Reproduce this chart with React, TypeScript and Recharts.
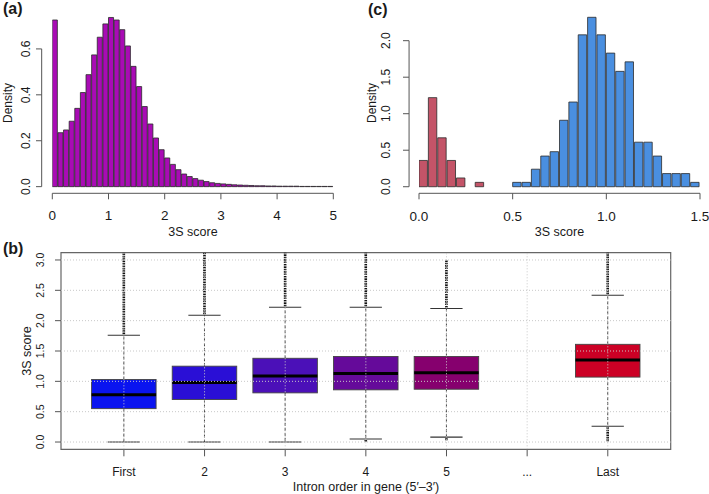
import React from "react";
import {
  BarChart,
  Bar,
  ComposedChart,
  XAxis,
  YAxis,
  ReferenceLine,
  ReferenceArea,
} from "recharts";

const FONT = '"Liberation Sans", Arial, Helvetica, sans-serif';
const TEXT = "#1a1a1a";
const AXIS = "#555";

// (a) 3S score, all introns: density per 0.1 bin from 0 to 5
const aBinWidth = 0.1;
const aDensity = [
  0.726, 0.235, 0.247, 0.285, 0.341, 0.41, 0.488, 0.574, 0.651, 0.709,
  0.737, 0.726, 0.684, 0.613, 0.524, 0.436, 0.349, 0.273, 0.212, 0.161,
  0.125, 0.097, 0.074, 0.055, 0.044, 0.035, 0.028, 0.022, 0.017, 0.014,
  0.012, 0.01, 0.008, 0.007, 0.006, 0.005, 0.004, 0.004, 0.003, 0.003,
  0.002, 0.002, 0.002, 0.002, 0.001, 0.001, 0.001, 0.001, 0.001, 0.001,
];
const aXTicks = [0, 1, 2, 3, 4, 5];
const aYTicks = [0, 0.2, 0.4, 0.6];

// (c) two groups, density per 0.05 bin from 0 to 1.5
const cBinWidth = 0.05;
const cRed = [
  0.36, 1.22, 0.67, 0.36, 0.12, null, 0.06, null, null, null,
  null, null, null, null, null, null, null, null, null, null,
  null, null, null, null, null, null, null, null, null, null,
];
const cBlue = [
  null, null, null, null, null, null, null, null, null, null,
  0.06, 0.06, 0.24, 0.42, 0.48, 0.91, 1.16, 2.08, 2.32, 2.08,
  1.83, 1.58, 1.71, 0.61, 0.61, 0.42, 0.18, 0.18, 0.18, 0.06,
];
const cXTicks = [0, 0.5, 1, 1.5];
const cYTicks = [0, 0.5, 1, 1.5, 2];

// (b) 3S score by intron order
const bCategories = ["First", "2", "3", "4", "5", "...", "Last"];
const bQ1 = [0.55, 0.7, 0.81, 0.86, 0.87, null, 1.07];
const bMedian = [0.78, 0.98, 1.09, 1.13, 1.14, null, 1.35];
const bQ3 = [1.03, 1.25, 1.38, 1.41, 1.41, null, 1.61];
const bWhiskLo = [0, 0, 0, 0.05, 0.08, null, 0.26];
const bWhiskHi = [1.76, 2.09, 2.22, 2.22, 2.2, null, 2.42];
const bOutLo = [null, null, null, 0, 0.02, null, 0];
const bOutHi = [3.15, 3.15, 3.15, 3.15, 2.99, null, 3.16];
const bYTicks = [0, 0.5, 1, 1.5, 2, 2.5, 3];
const BOX_COLORS = ["#0A14F0", "#2A0FD6", "#4B10B8", "#650A9A", "#86006E", "", "#CC0025"];

const aData = aDensity.map((d, i) => ({ x: (i + 0.5) * aBinWidth, d }));
const cData = cRed.map((r, i) => ({ x: (i + 0.5) * cBinWidth, red: r, blue: cBlue[i] }));
const bData = bCategories.map((name, i) => ({
  pos: i + 1,
  name,
  q1: bQ1[i],
  median: bMedian[i],
  q3: bQ3[i],
  wLo: bWhiskLo[i],
  wHi: bWhiskHi[i],
  oLo: bOutLo[i],
  oHi: bOutHi[i],
}));

const rangeLo = (d: any) => (d.oLo != null ? d.oLo : d.wLo);
const rangeHi = (d: any) => (d.oHi != null ? d.oHi : d.wHi);
const boxRange = (d: any) => (d.q1 == null ? null : [rangeLo(d), rangeHi(d)]);

// R-style y axis: detached line, rotated labels
const SideTick = (props: any) => {
  const { x, y, payload, axisGap, tickLen, labelGap, fontSize } = props;
  const ax = x - axisGap;
  const lx = x - labelGap;
  return (
    <g>
      {tickLen > 0 && (
        <line x1={ax} x2={ax - tickLen} y1={y} y2={y} stroke={AXIS} strokeWidth={1} />
      )}
      <text
        x={lx}
        y={y}
        transform={`rotate(-90 ${lx} ${y})`}
        textAnchor="middle"
        dominantBaseline="central"
        fontSize={fontSize}
        fill={TEXT}
        fontFamily={FONT}
      >
        {Number(payload.value).toFixed(1)}
      </text>
    </g>
  );
};

const BoxShape = (props: any) => {
  const { x, y, width, height, payload } = props;
  if (payload.q1 == null || !height) return null;
  const lo = rangeLo(payload);
  const hi = rangeHi(payload);
  const top = Math.min(y, y + height);
  const k = Math.abs(height) / (hi - lo);
  const py = (v: number) => top + (hi - v) * k;
  const cx = x + width / 2;
  const fill = BOX_COLORS[payload.pos - 1];
  return (
    <g>
      {payload.oHi != null && (
        <line x1={cx} x2={cx} y1={py(payload.wHi) - 1} y2={py(payload.oHi)} stroke="#111" strokeWidth={2.6} strokeDasharray="1.6 0.8" />
      )}
      {payload.oLo != null && (
        <line x1={cx} x2={cx} y1={py(payload.wLo) + 1} y2={py(payload.oLo)} stroke="#111" strokeWidth={2.6} strokeDasharray="1.6 0.8" />
      )}
      <line x1={cx} x2={cx} y1={py(payload.q3)} y2={py(payload.wHi)} stroke="#333" strokeWidth={0.9} strokeDasharray="3 2" />
      <line x1={cx} x2={cx} y1={py(payload.q1)} y2={py(payload.wLo)} stroke="#333" strokeWidth={0.9} strokeDasharray="3 2" />
      <line x1={cx - width / 4} x2={cx + width / 4} y1={py(payload.wHi)} y2={py(payload.wHi)} stroke="#333" strokeWidth={1.1} />
      <line x1={cx - width / 4} x2={cx + width / 4} y1={py(payload.wLo)} y2={py(payload.wLo)} stroke="#333" strokeWidth={1.1} />
      <rect x={x} y={py(payload.q3)} width={width} height={py(payload.q1) - py(payload.q3)} fill={fill} stroke="#444" strokeWidth={0.9} />
      <line x1={x} x2={x + width} y1={py(payload.median)} y2={py(payload.median)} stroke="#000" strokeWidth={3} />
    </g>
  );
};

const labelStyle = { fontFamily: FONT, fill: TEXT };

export default function App() {
  return (
    <div style={{ position: "absolute", left: 0, top: 0, width: 709, height: 494, background: "#fff", overflow: "hidden" }}>
      {/* (a) */}
      <div style={{ position: "absolute", left: 0, top: 0 }}>
        <BarChart width={350} height={230} data={aData} margin={{ top: 7.6, right: 16.7, bottom: 0, left: 0 }} barCategoryGap={0} barGap={0}>
          <XAxis
            type="number"
            dataKey="x"
            domain={[0, 5]}
            allowDataOverflow
            ticks={aXTicks}
            height={36.7}
            stroke={AXIS}
            tickSize={6}
            tickMargin={11.5}
            tick={{ fontSize: 13.5, fill: TEXT, fontFamily: FONT }}
          />
          <YAxis
            type="number"
            domain={[-0.029, 0.78]}
            allowDataOverflow
            ticks={aYTicks}
            width={52.3}
            axisLine={false}
            tickLine={false}
            tickSize={0}
            tickMargin={0}
            tick={(p: any) => <SideTick {...p} axisGap={10.6} tickLen={5.7} labelGap={26} fontSize={12} />}
          />
          <Bar dataKey="d" fill="#A90BB5" stroke="#2b2b2b" strokeWidth={0.8} barSize={5.62} isAnimationActive={false} />
          <ReferenceLine segment={[{ x: -0.189, y: 0 }, { x: -0.189, y: 0.6 }]} ifOverflow="visible" stroke={AXIS} strokeWidth={1} />
        </BarChart>
      </div>

      {/* (c) */}
      <div style={{ position: "absolute", left: 350, top: 0 }}>
        <BarChart width={359} height={230} data={cData} margin={{ top: 7.6, right: 9, bottom: 0, left: 0 }} barCategoryGap={0} barGap={0}>
          <XAxis
            type="number"
            dataKey="x"
            domain={[0, 1.5]}
            allowDataOverflow
            ticks={cXTicks}
            height={36.7}
            stroke={AXIS}
            tickSize={6}
            tickMargin={12}
            tickFormatter={(v: number) => v.toFixed(1)}
            tick={{ fontSize: 13.5, fill: TEXT, fontFamily: FONT }}
          />
          <YAxis
            type="number"
            domain={[-0.09, 2.453]}
            allowDataOverflow
            ticks={cYTicks}
            width={69}
            axisLine={false}
            tickLine={false}
            tickSize={0}
            tickMargin={0}
            tick={(p: any) => <SideTick {...p} axisGap={10} tickLen={6} labelGap={33} fontSize={12} />}
          />
          <Bar dataKey="red" stackId="s" fill="#C45468" stroke="#2b2b2b" strokeWidth={0.8} barSize={9.37} isAnimationActive={false} />
          <Bar dataKey="blue" stackId="s" fill="#4A8FE0" stroke="#2b2b2b" strokeWidth={0.8} barSize={9.37} isAnimationActive={false} />
          <ReferenceLine segment={[{ x: -0.053, y: 0 }, { x: -0.053, y: 2 }]} ifOverflow="visible" stroke={AXIS} strokeWidth={1} />
        </BarChart>
      </div>

      {/* (b) */}
      <div style={{ position: "absolute", left: 0, top: 230 }}>
        <ComposedChart width={709} height={264} data={bData} margin={{ top: 22.7, right: 38.3, bottom: 0, left: 0 }}>
          <XAxis
            type="number"
            dataKey="pos"
            domain={[0.22, 7.78]}
            allowDataOverflow
            ticks={bData.map((d) => d.pos)}
            tickFormatter={(v: number) => bCategories[v - 1]}
            height={44.7}
            axisLine={false}
            stroke={AXIS}
            tickSize={7}
            tickMargin={11}
            tick={{ fontSize: 12, fill: TEXT, fontFamily: FONT }}
          />
          <YAxis
            type="number"
            domain={[-0.12, 3.12]}
            allowDataOverflow
            ticks={bYTicks}
            width={61}
            axisLine={false}
            stroke={AXIS}
            tickSize={6}
            tickMargin={0}
            tick={(p: any) => <SideTick {...p} axisGap={0} tickLen={0} labelGap={15} fontSize={10.5} />}
          />
          <Bar dataKey={boxRange} shape={BoxShape} barSize={64.5} isAnimationActive={false} />
          {bYTicks.map((v) => (
            <ReferenceLine key={`h${v}`} y={v} stroke="#c8c8c8" strokeDasharray="1 2" />
          ))}
          {bData.map((d) => (
            <ReferenceLine key={`v${d.pos}`} x={d.pos} stroke="#c8c8c8" strokeDasharray="1 2" />
          ))}
          <ReferenceArea x1={0.22} x2={7.78} y1={-0.12} y2={3.12} fill="none" stroke="#666" strokeWidth={1.2} ifOverflow="visible" />
        </ComposedChart>
      </div>

      {/* titles and panel letters */}
      <svg width={709} height={494} style={{ position: "absolute", left: 0, top: 0, pointerEvents: "none" }}>
        <text x={3} y={14} fontSize={16} fontWeight="bold" {...labelStyle}>(a)</text>
        <text x={368} y={14.5} fontSize={16} fontWeight="bold" {...labelStyle}>(c)</text>
        <text x={3} y={254} fontSize={16} fontWeight="bold" {...labelStyle}>(b)</text>

        <text x={8} y={103} fontSize={12} textAnchor="middle" dominantBaseline="central" transform="rotate(-90 8 103)" {...labelStyle}>Density</text>
        <text x={193} y={232} fontSize={12.5} textAnchor="middle" dominantBaseline="central" {...labelStyle}>3S score</text>

        <text x={371.7} y={103} fontSize={12} textAnchor="middle" dominantBaseline="central" transform="rotate(-90 371.7 103)" {...labelStyle}>Density</text>
        <text x={559.5} y={232} fontSize={12.5} textAnchor="middle" dominantBaseline="central" {...labelStyle}>3S score</text>

        <text x={26.7} y={351} fontSize={12.5} textAnchor="middle" dominantBaseline="central" transform="rotate(-90 26.7 351)" {...labelStyle}>3S score</text>
        <text x={366} y={486.7} fontSize={12.5} textAnchor="middle" dominantBaseline="central" {...labelStyle}>Intron order in gene (5′–3′)</text>
      </svg>
    </div>
  );
}
